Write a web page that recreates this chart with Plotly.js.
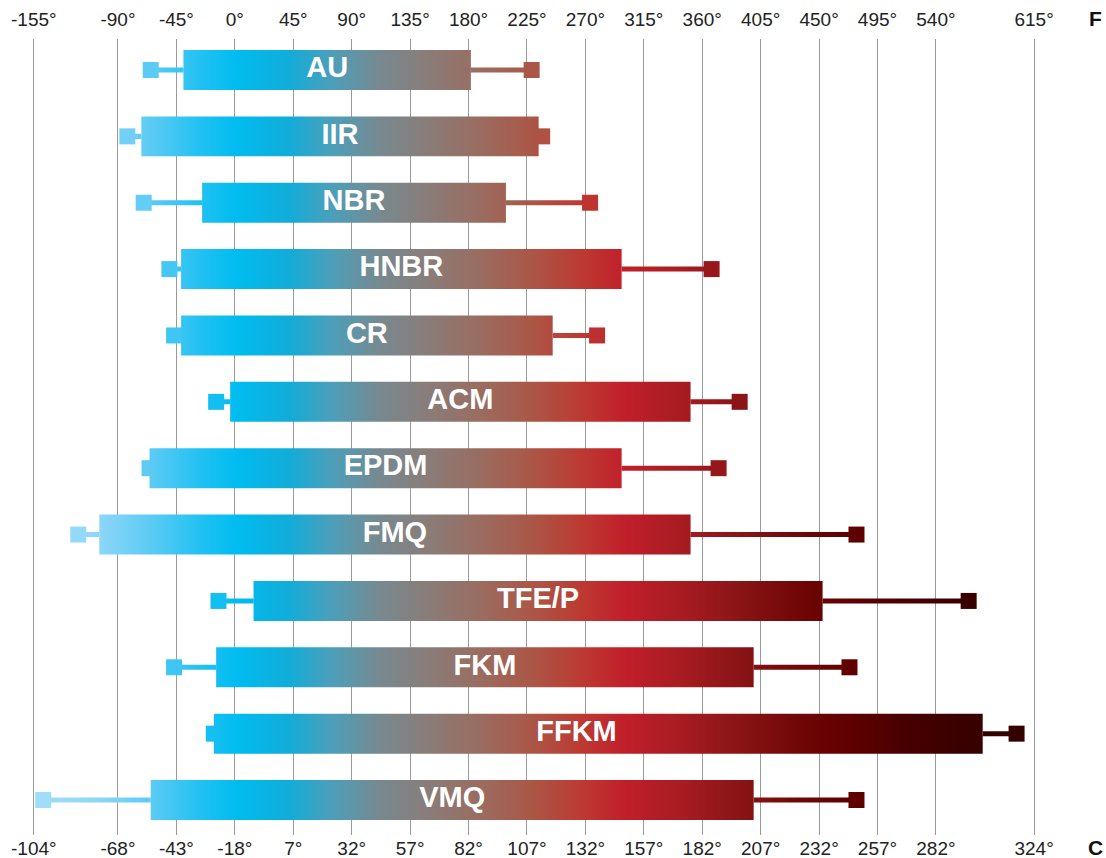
<!DOCTYPE html>
<html>
<head>
<meta charset="utf-8">
<script src="https://cdn.plot.ly/plotly-3.0.1.min.js"></script>
<style>
html,body{margin:0;padding:0;background:#ffffff;}
#chart{width:1106px;height:858px;}
</style>
</head>
<body>
<div id="chart"></div>
<script>
// ---- data (temperatures in °C) ----
const materials = ['AU','IIR','NBR','HNBR','CR','ACM','EPDM','FMQ','TFE/P','FKM','FFKM','VMQ'];
const lowC      = [-40, -58, -32, -41, -41, -20, -54.5, -76, -10, -26, -27, -54];
const highC     = [83, 112, 98, 147.5, 118, 177, 147.5, 177, 233.5, 204, 302, 204];
const extLowC   = [-54, -64, -57, -46, -44, -26, -54.5, -85, -25, -44, -27, -100];
const extHighC  = [109, 113.5, 134, 186, 137, 198, 189, 248, 296, 245, 316.5, 248];
const tickC       = [-104,-68,-43,-18,7,32,57,82,107,132,157,182,207,232,257,282,324];
const tickCLabels = ['-104°','-68°','-43°','-18°','7°','32°','57°','82°','107°','132°','157°','182°','207°','232°','257°','282°','324°'];
const tickFLabels = ['-155°','-90°','-45°','0°','45°','90°','135°','180°','225°','270°','315°','360°','405°','450°','495°','540°','615°'];

// ---- style ----
const gradTemps  = [-110,-76,-54,-33,-17,5.6,22.7,44,65.5,87,108,130,149,172.5,198,224,245,267,292,335];
const gradColors = ['#a8e0fa','#8dd6f8','#5ccbf4','#22c1f2','#00bcf0','#12acd8','#4aa0bb','#77898f','#8a7c78','#9a6c60',
                    '#aa5848','#bc3a32','#c11f2a','#a81c22','#8a1416','#700606','#600000','#4a0000','#3a0000','#300000'];
const labelShiftC = [0,0,0,0,0,0,0,0,0,0,-9.3,0];
const X_RANGE = [-109.93, 335.08];
const Y_RANGE = [11.527, -0.467];
const BAR_HALF = 0.301, WHISKER_HALF = 0.038;
const FONT = 'Liberation Sans, Arial, Helvetica, sans-serif';

const gStart = gradTemps[0], gStop = gradTemps[gradTemps.length-1];
const colorscale = gradTemps.map((t,i)=>[(t-gStart)/(gStop-gStart), gradColors[i]]);
const fillgradient = {type:'horizontal', colorscale: colorscale, start: gStart, stop: gStop};
const rows = materials.map((_,i)=>i);

function rects(x0s, x1s, half){
  const xs=[], ys=[];
  rows.forEach(i=>{
    xs.push(x0s[i], x1s[i], x1s[i], x0s[i], x0s[i], null);
    ys.push(i-half, i-half, i+half, i+half, i-half, null);
  });
  return {xs, ys};
}

const wl = rects(extLowC, lowC, WHISKER_HALF);
const wh = rects(highC, extHighC, WHISKER_HALF);
const bars = rects(lowC, highC, BAR_HALF);

const noLine = {width:0, color:'rgba(0,0,0,0)'};
const traces = [
  {type:'scatter', mode:'lines', x: wl.xs.concat(wh.xs), y: wl.ys.concat(wh.ys), fill:'toself',
   fillgradient: fillgradient, line: noLine, hoverinfo:'skip', showlegend:false},
  {type:'scatter', mode:'markers', x: extLowC.concat(extHighC), y: rows.concat(rows),
   marker:{symbol:'square', size:16, color: extLowC.concat(extHighC), colorscale: colorscale,
           cmin: gStart, cmax: gStop, line:{width:0}},
   hoverinfo:'skip', showlegend:false},
  {type:'scatter', mode:'lines', x: bars.xs, y: bars.ys, fill:'toself',
   fillgradient: fillgradient, line: noLine, hoverinfo:'skip', showlegend:false},
  {type:'scatter', mode:'text', xaxis:'x2', yaxis:'y',
   x: rows.map(i=>(lowC[i]+highC[i])/2 + labelShiftC[i]), y: rows,
   text: materials, textposition:'middle center',
   textfont:{family: FONT, size:29, color:'#ffffff', weight:700},
   hoverinfo:'skip', showlegend:false}
];

const tickFont = {family: FONT, size:19, color:'#222222'};
const layout = {
  width:1106, height:858,
  margin:{l:20, r:46, t:39, b:23, pad:0},
  paper_bgcolor:'#ffffff', plot_bgcolor:'#ffffff',
  showlegend:false,
  xaxis:{range: X_RANGE, tickmode:'array', tickvals: tickC, ticktext: tickCLabels,
         showgrid:true, gridcolor:'#9a9a9a', gridwidth:1, zeroline:false, showline:false,
         ticks:'', tickfont: tickFont, fixedrange:true},
  xaxis2:{range: X_RANGE, overlaying:'x', side:'top', anchor:'y', tickmode:'array', tickvals: tickC, ticktext: tickFLabels,
          showgrid:false, zeroline:false, showline:false, ticks:'', tickfont: tickFont, fixedrange:true,
          ticklabelstandoff: 8},
  yaxis:{range: Y_RANGE, showgrid:false, zeroline:false, showline:false, showticklabels:false, ticks:'', fixedrange:true},
  annotations:[
    {xref:'paper', yref:'paper', x:1.0337, y:1 + (39-18)/796, text:'<b>F</b>', showarrow:false,
     xanchor:'center', yanchor:'middle', font:{family: FONT, size:21, color:'#111111'}},
    {xref:'paper', yref:'paper', x:1.0337, y:-(847-835)/796, text:'<b>C</b>', showarrow:false,
     xanchor:'center', yanchor:'middle', font:{family: FONT, size:21, color:'#111111'}}
  ]
};

Plotly.newPlot('chart', traces, layout, {displayModeBar:false, staticPlot:true});
</script>
</body>
</html>
